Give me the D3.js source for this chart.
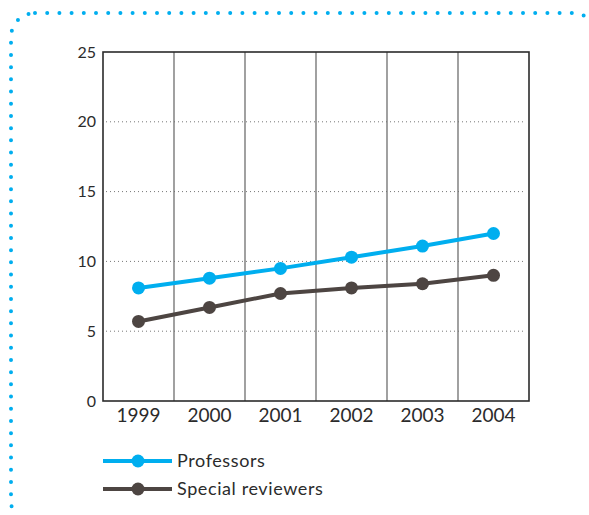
<!DOCTYPE html>
<html>
<head>
<meta charset="utf-8">
<script src="https://cdn.jsdelivr.net/npm/d3@7"></script>
<style>
  html, body { margin: 0; padding: 0; background: #fff; }
  svg { display: block; }
  text { font-family: "Lato", "DejaVu Sans", sans-serif; fill: #2b2b2b; }
</style>
</head>
<body>
<svg id="chart" width="589" height="515"></svg>
<script>
const years = ["1999", "2000", "2001", "2002", "2003", "2004"];
const professors = [8.1, 8.8, 9.5, 10.3, 11.1, 12.0];
const specialReviewers = [5.7, 6.7, 7.7, 8.1, 8.4, 9.0];
const yTicks = [0, 5, 10, 15, 20, 25];
const seriesNames = ["Professors", "Special reviewers"];
const seriesColors = ["#00aeef", "#4d4542"];

const svg = d3.select("#chart");
const m = { left: 103, right: 529, top: 52, bottom: 401 };

// dotted rounded frame
svg.append("rect")
  .attr("x", 11).attr("y", 13)
  .attr("width", 586).attr("height", 512)
  .attr("rx", 24).attr("ry", 24)
  .attr("fill", "none")
  .attr("stroke", "#00aeef")
  .attr("stroke-width", 4)
  .attr("stroke-linecap", "round")
  .attr("stroke-dasharray", "0 12.2");

const x = d3.scaleBand().domain(years).range([m.left, m.right]).padding(0);
const y = d3.scaleLinear().domain([0, 25]).range([m.bottom, m.top]);

// horizontal dotted gridlines
svg.append("g").selectAll("line")
  .data(yTicks.filter(t => t > 0 && t < 25))
  .join("line")
  .attr("x1", m.left + 3).attr("x2", m.right - 3)
  .attr("y1", d => y(d)).attr("y2", d => y(d))
  .attr("stroke", "#777")
  .attr("stroke-width", 1)
  .attr("stroke-dasharray", "1 3");

// vertical gridlines at band boundaries
svg.append("g").selectAll("line")
  .data(years.slice(1))
  .join("line")
  .attr("x1", d => x(d)).attr("x2", d => x(d))
  .attr("y1", m.top).attr("y2", m.bottom)
  .attr("stroke", "#6e6e6e")
  .attr("stroke-width", 1.3);

// frame of plot
svg.append("rect")
  .attr("x", m.left).attr("y", m.top)
  .attr("width", m.right - m.left).attr("height", m.bottom - m.top)
  .attr("fill", "none")
  .attr("stroke", "#2b2b2b")
  .attr("stroke-width", 1.6);

// y axis
const yAxis = svg.append("g")
  .attr("transform", `translate(${m.left},0)`)
  .call(d3.axisLeft(y).tickValues(yTicks).tickSize(0).tickPadding(7));
yAxis.select(".domain").remove();
yAxis.selectAll("text").style("font-size", "16px").attr("fill", "#2b2b2b")
  .style("font-family", "Lato, 'DejaVu Sans', sans-serif");

// x axis
const xAxis = svg.append("g")
  .attr("transform", `translate(0,${m.bottom})`)
  .call(d3.axisBottom(x).tickSize(0).tickPadding(8));
xAxis.select(".domain").remove();
xAxis.selectAll("text").style("font-size", "19px").attr("fill", "#2b2b2b")
  .style("font-family", "Lato, 'DejaVu Sans', sans-serif");

const cx = d => x(d) + x.bandwidth() / 2;
const line = d3.line().x((d, i) => cx(years[i])).y(d => y(d));

[professors, specialReviewers].forEach((vals, si) => {
  svg.append("path")
    .datum(vals)
    .attr("d", line)
    .attr("fill", "none")
    .attr("stroke", seriesColors[si])
    .attr("stroke-width", 4);
  svg.append("g").selectAll("circle")
    .data(vals)
    .join("circle")
    .attr("cx", (d, i) => cx(years[i]))
    .attr("cy", d => y(d))
    .attr("r", 6.5)
    .attr("fill", seriesColors[si]);
});

// legend
const legendY = [461, 489];
seriesNames.forEach((name, i) => {
  const g = svg.append("g");
  g.append("line")
    .attr("x1", 103).attr("x2", 172)
    .attr("y1", legendY[i]).attr("y2", legendY[i])
    .attr("stroke", seriesColors[i]).attr("stroke-width", 4);
  g.append("circle")
    .attr("cx", 138).attr("cy", legendY[i]).attr("r", 6.5)
    .attr("fill", seriesColors[i]);
  g.append("text")
    .attr("x", 177).attr("y", legendY[i])
    .attr("dy", "0.35em")
    .style("font-size", "18px")
    .style("letter-spacing", "0.6px")
    .text(name);
});
</script>
</body>
</html>
